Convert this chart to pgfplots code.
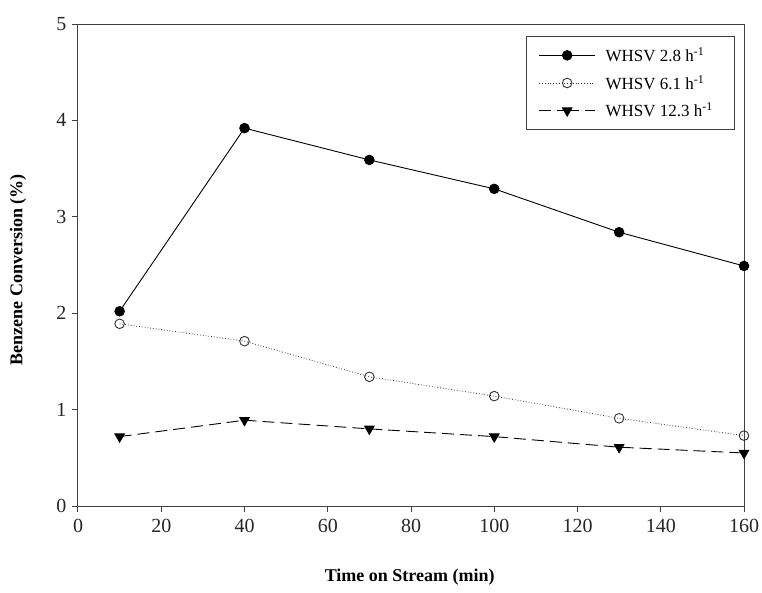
\documentclass[border=0pt]{standalone}
\usepackage{pgfplots}
\pgfplotsset{compat=1.18}
\usepackage{fontspec}
\setmainfont{Liberation Serif}
\begin{document}
\begin{tikzpicture}
\useasboundingbox (-78pt,-86pt) rectangle (684pt,506pt);
\begin{axis}[
  at={(0,0)}, anchor=south west,
  scale only axis, width=666pt, height=482pt,
  xmin=0, xmax=160, ymin=0, ymax=5,
  xtick={0,20,...,160}, ytick={0,1,...,5},
  xtick pos=bottom, ytick pos=left,
  tick align=outside, major tick length=6pt,
  axis line style={black!75, line width=1pt},
  tick style={black!75, line width=1pt},
  /pgf/number format/assume math mode=true,
  ticklabel style={font=\fontsize{20}{22}\selectfont, black!85},
  xticklabel style={yshift=-4pt},
  yticklabel style={xshift=-2pt},
  xlabel={\textbf{Time on Stream (min)}},
  ylabel={\textbf{Benzene Conversion (\%)}},
  every axis x label/.style={at={(axis description cs:0.498,-0.147)}, anchor=center, font=\fontsize{18}{20}\selectfont},
  every axis y label/.style={at={(axis description cs:-0.09,0.49)}, anchor=center, rotate=90, font=\fontsize{18}{20}\selectfont},
  legend style={at={(rel axis cs:0.987,0.975)}, anchor=north east, draw=black!75, line width=1pt,
    font=\fontsize{17}{19}\selectfont, inner xsep=12pt, inner ysep=9pt, row sep=8pt,
    legend cell align=left, nodes={inner xsep=10pt}},
  legend image code/.code={\draw[#1] (0pt,0pt) -- (28pt,0pt) plot coordinates {(28pt,0pt)} -- (56pt,0pt);},
]
\addplot[black, line width=0.9pt, mark=*, mark size=4.8pt, mark options={solid, fill=black}]
 coordinates {(10,2.02) (40,3.92) (70,3.59) (100,3.29) (130,2.84) (160,2.49)};
\addlegendentry{WHSV 2.8 h\textsuperscript{-1}}
\addplot[black!80, line width=0.8pt, dotted, mark=o, mark size=4.8pt, mark options={solid, fill=white, line width=0.9pt}]
 coordinates {(10,1.89) (40,1.71) (70,1.34) (100,1.14) (130,0.91) (160,0.73)};
\addlegendentry{WHSV 6.1 h\textsuperscript{-1}}
\addplot[black, line width=0.9pt, dash pattern=on 12pt off 6pt, mark=triangle*, mark size=5.5pt, mark options={solid, fill=black, rotate=180}]
 coordinates {(10,0.72) (40,0.89) (70,0.80) (100,0.72) (130,0.61) (160,0.55)};
\addlegendentry{WHSV 12.3 h\textsuperscript{-1}}
\end{axis}
\end{tikzpicture}
\end{document}
